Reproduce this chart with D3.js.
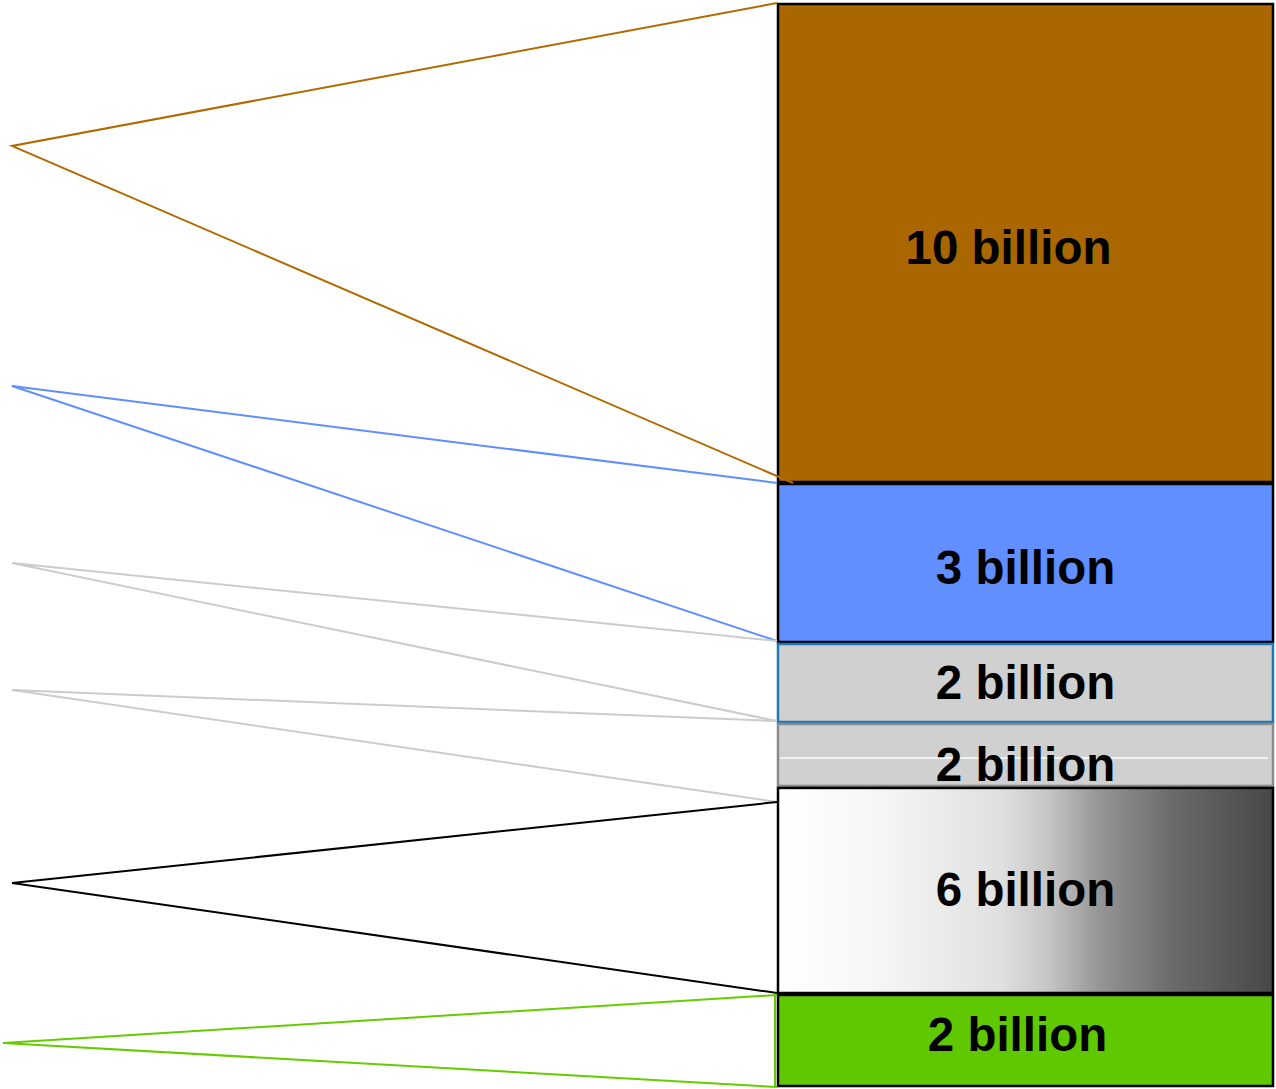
<!DOCTYPE html>
<html>
<head>
<meta charset="utf-8">
<script src="https://cdn.jsdelivr.net/npm/d3@7/dist/d3.min.js"></script>
<style>
  html, body { margin: 0; padding: 0; background: #fff; }
  svg { display: block; }
</style>
</head>
<body>
<script>
// ---- data ----
const categories = ["a", "b", "c", "d", "e", "f"];
const values = [10, 3, 2, 2, 6, 2];                       // billions
const labels = ["10 billion", "3 billion", "2 billion", "2 billion", "6 billion", "2 billion"];
// vertical share of each box (percent of stack height, as drawn)
const boxShare = [44.28, 14.76, 7.38, 5.90, 19.10, 8.58];
// where each fan's tip sits (percent of stack height)
const tipAt = [13.19, 35.33, 51.66, 63.38, 81.18, 95.94];
// where each fan meets the stack (percent of stack height)
const fanTop = [0, 44.28, 58.86, 66.24, 73.71, 91.51];
const fanBottom = [44.28, 58.86, 66.24, 73.71, 91.33, 100];

// ---- styles ----
const fills = ["#AA6600", "#618FFF", "#D0D0D0", "#D0D0D0", "url(#grad)", "#60C800"];
const strokes = ["#000", "#000", "#1F77B4", "#8A8A8A", "#000", "#000"];
const fanColors = ["#B06A00", "#618FFF", "#CCCCCC", "#CCCCCC", "#000000", "#66CC00"];

const W = 1276, H = 1089;
const svg = d3.select("body").append("svg").attr("width", W).attr("height", H);

const defs = svg.append("defs");
const grad = defs.append("linearGradient").attr("id", "grad")
  .attr("x1", "0%").attr("x2", "100%").attr("y1", "0%").attr("y2", "0%");
[[0, "#ffffff"], [0.2, "#f6f6f6"], [0.45, "#e0e0e0"], [0.55, "#c4c4c4"], [0.65, "#959595"],
 [0.8, "#6a6a6a"], [1, "#474747"]].forEach(([o, c]) =>
  grad.append("stop").attr("offset", o).attr("stop-color", c));

const y = d3.scaleLinear().domain([0, 100]).range([3, 1087]);
const x0 = 777, x1 = 1274;
const tipX = [12, 12, 12, 12, 12, 3];

const cum = d3.cumsum(boxShare);
const boxes = categories.map((c, i) => ({
  c, v: values[i], label: labels[i],
  top: i === 0 ? 0 : cum[i - 1], bottom: cum[i],
  fill: fills[i], stroke: strokes[i]
}));

// boxes
const g = svg.append("g");
g.selectAll("rect").data(boxes).join("rect")
  .attr("x", x0 + 1)
  .attr("y", d => y(d.top) + 1)
  .attr("width", x1 - x0 - 2)
  .attr("height", d => y(d.bottom) - y(d.top) - 2)
  .attr("fill", d => d.fill)
  .attr("stroke", d => d.stroke)
  .attr("stroke-width", 2.5);

// white rule inside the 4th box
g.append("line")
  .attr("x1", x0 + 3).attr("x2", x1 - 6)
  .attr("y1", (y(boxes[3].top) + y(boxes[3].bottom)) / 2 + 3)
  .attr("y2", (y(boxes[3].top) + y(boxes[3].bottom)) / 2 + 3)
  .attr("stroke", "#fff").attr("stroke-width", 1.5);

// fans (drawn over the stack edge)
const fans = svg.append("g");
categories.forEach((c, i) => {
  const pts = [[x0, y(fanTop[i])], [tipX[i], y(tipAt[i])], [i === 0 ? x0 + 16 : x0, y(fanBottom[i])]];
  fans.append("path")
    .attr("d", d3.line()(pts))
    .attr("fill", "none")
    .attr("stroke", fanColors[i])
    .attr("stroke-width", 2);
});
// green fan closing edge
fans.append("line")
  .attr("x1", x0 - 2).attr("x2", x0 - 2)
  .attr("y1", y(fanTop[5])).attr("y2", y(100))
  .attr("stroke", fanColors[5]).attr("stroke-width", 2);

// labels
const labelDx = [-17, 0, 0, 0, 0, -8];
const labelDy = [5, 5, 0, 10, 0, -5];
g.selectAll("text").data(boxes).join("text")
  .attr("x", (d, i) => (x0 + x1) / 2 + labelDx[i])
  .attr("y", (d, i) => (y(d.top) + y(d.bottom)) / 2 + labelDy[i] + 16)
  .attr("text-anchor", "middle")
  .attr("font-family", "'Liberation Sans', Arial, sans-serif")
  .attr("font-weight", "bold")
  .attr("font-size", 47.5)
  .attr("fill", "#000")
  .text(d => d.label);
</script>
</body>
</html>
